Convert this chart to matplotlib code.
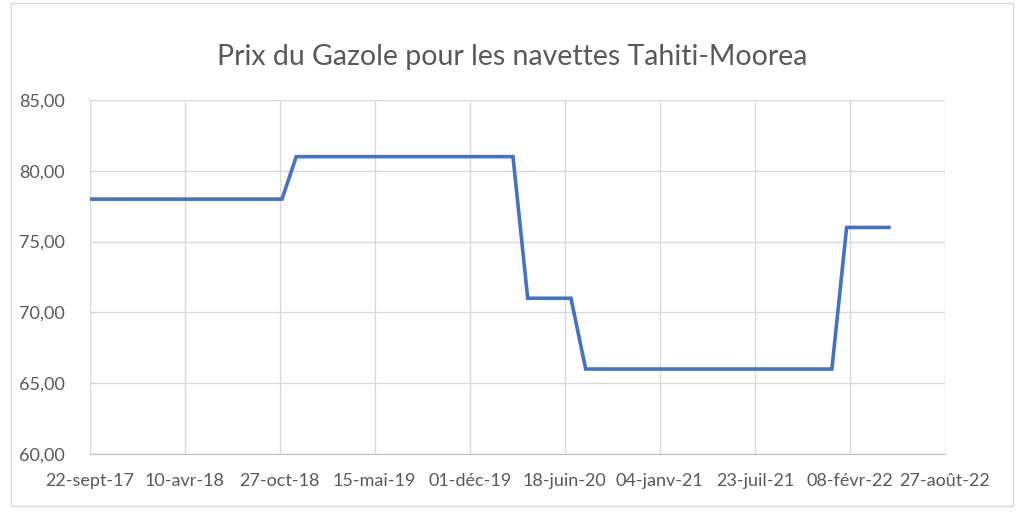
import numpy as np
import matplotlib.pyplot as plt
import matplotlib.dates as mdates
from matplotlib.patches import Rectangle

# breakpoints of the price series (monthly data, flat between them)
dates = ["2017-09-22", "2018-11-01", "2018-12-01", "2020-03-01", "2020-04-01",
         "2020-07-01", "2020-08-01", "2022-01-01", "2022-02-01", "2022-05-01"]
prix = [78, 78, 81, 81, 71, 71, 66, 66, 76, 76]

tick_labels = ["22-sept-17", "10-avr-18", "27-oct-18", "15-mai-19", "01-déc-19",
               "18-juin-20", "04-janv-21", "23-juil-21", "08-févr-22", "27-août-22"]
y_ticks = [60, 65, 70, 75, 80, 85]

plt.rcParams['font.family'] = ['Lato', 'DejaVu Sans']
grey = "#595959"

x = np.array(dates, dtype="datetime64[D]")
start = np.datetime64("2017-09-22")
x_ticks = start + np.arange(len(tick_labels)) * np.timedelta64(200, "D")

fig = plt.figure(figsize=(10.24, 5.14), dpi=100)
fig.patches.append(Rectangle((11 / 1024, 8 / 514), 1002 / 1024, 503 / 514,
                             transform=fig.transFigure, fill=False,
                             edgecolor="#D9D9D9", linewidth=1))
ax = fig.add_axes([89.5 / 1024, 60 / 514, 855.5 / 1024, 354 / 514])

ax.plot(x, prix, color="#4472C4", linewidth=2.6, solid_joinstyle="miter", zorder=3)

ax.set_xlim(x_ticks[0], x_ticks[-1])
ax.set_ylim(60, 85)
ax.set_xticks(x_ticks)
ax.set_xticklabels(tick_labels)
ax.set_yticks(y_ticks)
ax.set_yticklabels([f"{v},00" for v in y_ticks])
ax.grid(True, color="#D9D9D9", linewidth=1)
ax.set_axisbelow(True)
for s in ["top", "right", "left"]:
    ax.spines[s].set_visible(False)
ax.spines["bottom"].set_color("#BFBFBF")
ax.tick_params(length=0, labelsize=13, labelcolor=grey)
ax.tick_params(axis="x", pad=14)
ax.tick_params(axis="y", pad=18)

fig.text(0.5, 1 - 57 / 514, "Prix du Gazole pour les navettes Tahiti-Moorea",
         ha="center", va="center", fontsize=20.5, color=grey)

fig.savefig("out.png", dpi=100)
